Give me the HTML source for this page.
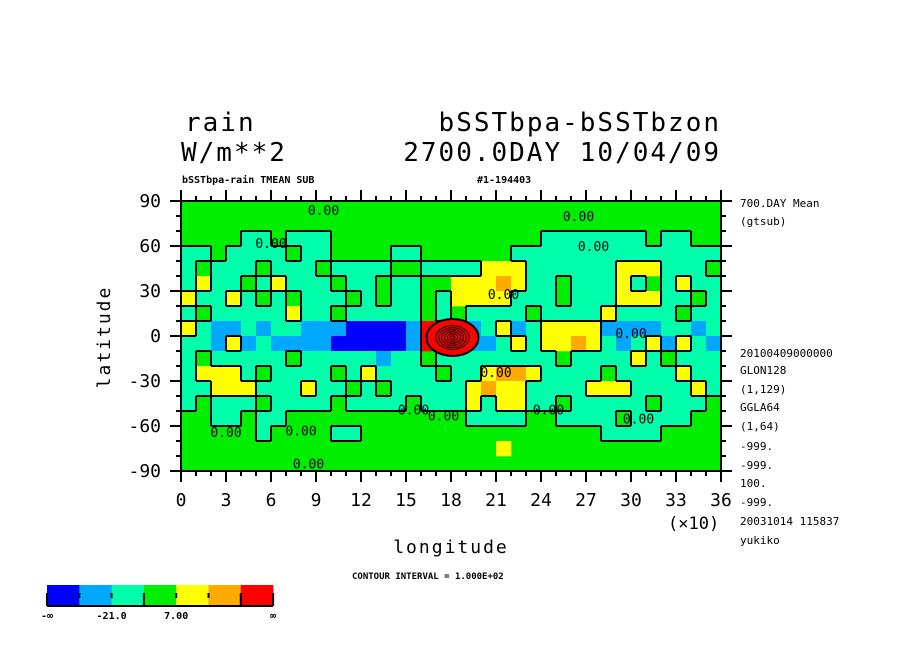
<!DOCTYPE html>
<html><head><meta charset="utf-8"><style>
body{margin:0;background:#fff;width:904px;height:654px;overflow:hidden}
svg{display:block}
text{font-family:"DejaVu Sans Mono","Liberation Mono",monospace;fill:#000}
</style></head><body>
<svg id="chart" width="904" height="654" viewBox="0 0 904 654" xmlns="http://www.w3.org/2000/svg">
<g id="map"></g>
<g id="axes"></g>
<text x="185" y="131" font-size="26" letter-spacing="2">rain</text>
<text x="181" y="161" font-size="26" letter-spacing="2">W/m**2</text>
<text x="721" y="131" font-size="26" text-anchor="end" letter-spacing="2">bSSTbpa-bSSTbzon</text>
<text x="721" y="161" font-size="26" text-anchor="end" letter-spacing="2">2700.0DAY 10/04/09</text>
<text x="182" y="183" font-size="10" font-weight="bold">bSSTbpa-rain TMEAN SUB</text>
<text x="477" y="183" font-size="10" font-weight="bold">#1-194403</text>
<g font-size="11">
<text x="740" y="207">700.DAY Mean</text><text x="740" y="225">(gtsub)</text>
<text x="740" y="357">20100409000000</text><text x="740" y="374">GLON128</text>
<text x="740" y="393">(1,129)</text><text x="740" y="411">GGLA64</text>
<text x="740" y="430">(1,64)</text><text x="740" y="450">-999.</text>
<text x="740" y="469">-999.</text><text x="740" y="487">100.</text>
<text x="740" y="506">-999.</text><text x="740" y="525">20031014 115837</text>
<text x="740" y="544">yukiko</text></g>
<text x="668" y="529" font-size="17">(×10)</text>
<text x="451" y="553" font-size="18" text-anchor="middle" letter-spacing="2">longitude</text>
<text x="0" y="0" font-size="18" text-anchor="middle" letter-spacing="2" transform="translate(110,337) rotate(-90)">latitude</text>
<text x="352" y="579" font-size="9" font-weight="bold">CONTOUR INTERVAL = 1.000E+02</text>
<g id="cbar"></g>
</svg>
<script>
const levelColors=["#0000ff","#00a8ff","#00ffaa","#00ee00","#ffff00","#ffaa00","#ff0000"];
const colorbarLabels=["-∞","-21.0","7.00","∞"];
const lonTicks=[0,3,6,9,12,15,18,21,24,27,30,33,36];
const latTicks=[90,60,30,0,-30,-60,-90];
// levels per 10deg cell, rows from 90N to 90S, columns lon 0..350
const gridRows=[
"333333333333333333333333333333333333",
"333333333333333333333333333333333333",
"333322322233333333333333222222232233",
"223222232233332233333322222222222222",
"232223222322223322224442222224442223",
"242232422232232233444542232224232422",
"422423232223232232444422232224442232",
"232222242232222232322223222242222322",
"421121221110000166112412444411112212",
"221412111100000166111242445421241421",
"232222232222212232222222232222423222",
"244423222232422223224554222232222422",
"224442224223232222245442222444222242",
"232223222232222322242442232222232223",
"332232233333333333322223322223222233",
"333332333322333333333333333322223333",
"333333333333333333333433333333333333",
"333333333333333333333333333333333333"];
const peakLon=181, peakLat=-1, peakRadiusDeg=[17.3,11.2];
const zeroLabels=[[95,84],[60,62],[265,80],[275,60],[215,28],[300,2],[210,-24],[175,-53],[245,-49],[155,-49],[30,-64],[80,-63],[85,-85],[305,-55]];
const NS="http://www.w3.org/2000/svg";
const X0=181,Y0=201,W=540,H=270;
const xs=l=>X0+l/360*W, ys=la=>Y0+(90-la)/180*H;
function mk(t,a,p){const e=document.createElementNS(NS,t);for(const k in a)e.setAttribute(k,a[k]);p.appendChild(e);return e;}
const map=document.getElementById('map');
mk('rect',{x:X0,y:Y0,width:W,height:H,fill:levelColors[3]},map);
const nr=gridRows.length,nc=gridRows[0].length;
for(let r=0;r<nr;r++)for(let c=0;c<nc;c++){
 const v=+gridRows[r][c]; if(v===3)continue;
 const la=90-r*180/nr, lo=c*360/nc;
 const e=mk('rect',{x:xs(lo),y:ys(la),width:W/nc+0.3,height:H/nr+0.3,fill:levelColors[v]},map);
 
 
}
let d="";
const neg=(r,c)=>(+gridRows[r][c])<3;
for(let r=0;r<nr;r++)for(let c=0;c<nc;c++){
 const la=90-r*180/nr, lo=c*360/nc, la2=90-(r+1)*180/nr, lo2=(c+1)*360/nc;
 if(c+1<nc&&neg(r,c)!==neg(r,c+1))d+=`M${xs(lo2)},${ys(la)}V${ys(la2)}`;
 if(r+1<nr&&neg(r,c)!==neg(r+1,c))d+=`M${xs(lo)},${ys(la2)}H${xs(lo2)}`;
}
const cl=mk('path',{d:d,stroke:'#000','stroke-width':2,fill:'none'},map);


const pk=mk('ellipse',{cx:xs(peakLon),cy:ys(peakLat),rx:peakRadiusDeg[0]*1.5,ry:peakRadiusDeg[1]*1.65,fill:levelColors[6],stroke:'#000','stroke-width':2},map);


for(let i=1;i<7;i++){const f=0.75-i*0.11;const e=mk('ellipse',{cx:xs(peakLon),cy:ys(peakLat),rx:peakRadiusDeg[0]*1.5*f,ry:peakRadiusDeg[1]*1.65*f,fill:'none',stroke:'#000','stroke-width':1},map);

}
zeroLabels.forEach(p=>{const t=mk('text',{x:xs(p[0]),y:ys(p[1])+5,'font-size':13,'text-anchor':'middle'},map);t.textContent='0.00';

});
const ax=document.getElementById('axes');
mk('rect',{x:X0,y:Y0,width:W,height:H,fill:'none',stroke:'#000','stroke-width':2},ax);
let td="";
for(let l=0;l<=360;l+=10){const L=(l%30===0)?11:5;td+=`M${xs(l)},${Y0}v${-L}M${xs(l)},${Y0+H}v${L}`;}
for(let la=-90;la<=90;la+=10){const L=(la%30===0)?11:5;td+=`M${X0},${ys(la)}h${-L}M${X0+W},${ys(la)}h${L}`;}
mk('path',{d:td,stroke:'#000','stroke-width':2,fill:'none'},ax);
lonTicks.forEach(v=>{const t=mk('text',{x:xs(v*10),y:Y0+H+35,'font-size':18,'text-anchor':'middle'},ax);t.textContent=v;

});
latTicks.forEach(v=>{const t=mk('text',{x:161,y:ys(v)+6,'font-size':18,'text-anchor':'end'},ax);t.textContent=v;

});
const cb=document.getElementById('cbar');
const bw=32.3;
levelColors.forEach((c,i)=>{const e=mk('rect',{x:47+i*bw,y:585,width:bw+0.3,height:21,fill:c},cb);

});
let cd=`M47,606H273`;for(let i=0;i<=7;i++){const L=(i%3===0||i===7)?13:5;cd+=`M${47+i*bw},${593}v${L}`;}
mk('path',{d:cd,stroke:'#000','stroke-width':2,fill:'none'},cb);
const cbx=[47,47+bw*2,47+bw*4,47+bw*7];
colorbarLabels.forEach((s,i)=>{const t=mk('text',{x:cbx[i],y:619,'font-size':10,'font-weight':'bold','text-anchor':'middle'},cb);t.textContent=s;

});
</script>
</body></html>
